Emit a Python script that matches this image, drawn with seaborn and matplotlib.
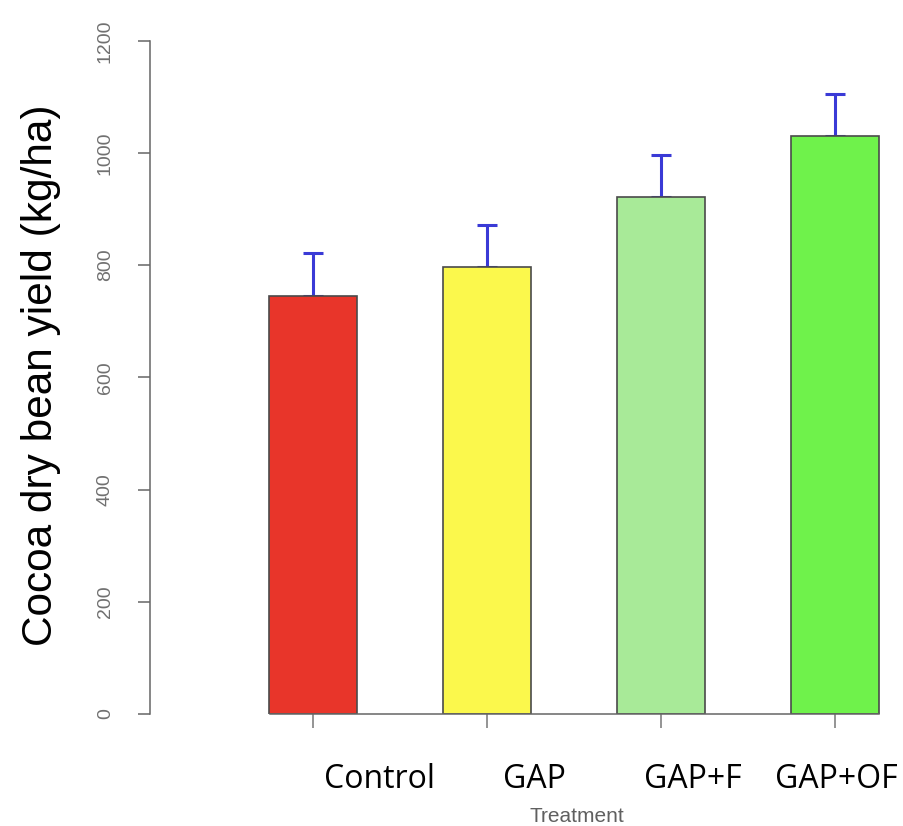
"""Rendement en fèves sèches de cacao par traitement (barplot + erreur)."""

import numpy as np
import pandas as pd
import matplotlib.pyplot as plt
import seaborn as sns

# Données
treatments = ["Control", "GAP", "GAP+F", "GAP+OF"]
yield_mean = [745, 797, 922, 1030]
yield_err = [77, 75, 74, 75]
bar_colors = ["#E8352A", "#FBF84C", "#A8EA98", "#6FF24B"]
y_ticks = [0, 200, 400, 600, 800, 1000, 1200]
# petit décalage des étiquettes (collées à la main dans l'original)
label_shift = [0.38, 0.27, 0.18, 0.01]

df = pd.DataFrame({"treatment": treatments, "yield": yield_mean})

sns.set_style("white")
plt.rcParams["font.family"] = ["Liberation Sans", "DejaVu Sans"]

fig = plt.figure(figsize=(9.04, 8.26), dpi=100)
ax = fig.add_axes([150 / 904, 112 / 826, 740 / 904, 694 / 826])

sns.barplot(
    data=df,
    x="treatment",
    y="yield",
    hue="treatment",
    palette=bar_colors,
    saturation=1,
    width=0.506,
    edgecolor="#4a4a4a",
    linewidth=1.2,
    legend=False,
    errorbar=None,
    ax=ax,
    zorder=2,
)

x = np.arange(len(treatments))
# barre d'erreur vers le haut seulement (le bas est caché derrière la barre)
ax.errorbar(
    x,
    yield_mean,
    yerr=[np.zeros(len(yield_err)), yield_err],
    fmt="none",
    ecolor="#3a3ad6",
    elinewidth=2.2,
    capsize=7.5,
    capthick=2.2,
    zorder=1,
)

ax.set_xlim(-0.937, 3.316)
ax.set_ylim(0, 1237)

# axes style R
for side in ["top", "right"]:
    ax.spines[side].set_visible(False)
ax.spines["left"].set_bounds(0, 1200)
ax.spines["bottom"].set_bounds(-0.25, 3.25)
for side in ["left", "bottom"]:
    ax.spines[side].set_color("#666666")
    ax.spines[side].set_linewidth(1.1)

ax.set_yticks(y_ticks)
ax.set_yticklabels([str(v) for v in y_ticks], rotation=90, va="center",
                   fontsize=14, color="#707070")
ax.tick_params(axis="y", direction="out", length=9, width=1.1,
               color="#666666", pad=17, left=True)
ax.set_xticks(x)
ax.set_xticklabels([])
ax.tick_params(axis="x", direction="out", length=10, width=1.1,
               color="#777777", bottom=True)
ax.set_xlabel("")
ax.set_ylabel("")

trans = ax.get_xaxis_transform()
for i, lab in enumerate(treatments):
    ax.text(i + label_shift[i], -0.095, lab, transform=trans, ha="center",
            va="center", fontsize=23, color="black", family="Open Sans")

fig.text(577 / 904, 1 - 816 / 826, "Treatment", ha="center", va="center",
         fontsize=15, color="#606060")
fig.text(41 / 904, 1 - 375 / 826, "Cocoa dry bean yield (kg/ha)", rotation=90,
         ha="center", va="center", fontsize=30.5, color="black")

fig.savefig("out.png", dpi=100)
plt.close(fig)
